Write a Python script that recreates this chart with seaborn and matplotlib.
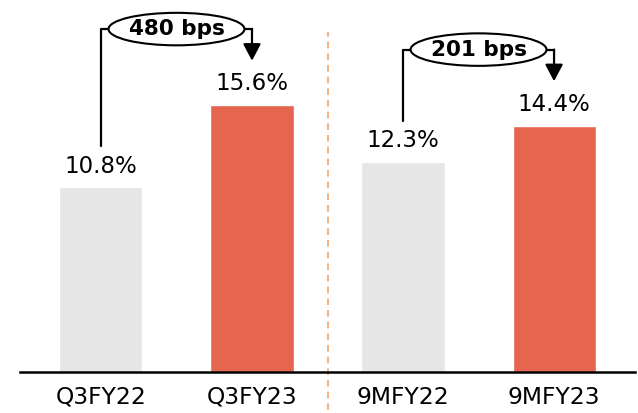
import numpy as np
import pandas as pd
import matplotlib
matplotlib.use("Agg")
import matplotlib.pyplot as plt
from matplotlib.patches import Ellipse
import seaborn as sns

# data
periods = ["Q3FY22", "Q3FY23", "9MFY22", "9MFY23"]
margins = [10.8, 15.6, 12.3, 14.4]
labels = ["10.8%", "15.6%", "12.3%", "14.4%"]
bubbles = ["480 bps", "201 bps"]

bar_colors = ["#E6E6E6", "#E5654F", "#E6E6E6", "#E5654F"]

sns.set_theme(style="white")
plt.rcParams["font.family"] = ["DejaVu Sans"]

fig = plt.figure(figsize=(6.38, 4.13), dpi=100)
ax = fig.add_axes([20 / 638, 41 / 413, 615 / 638, 372 / 413])

df = pd.DataFrame({"period": periods, "margin": margins})
sns.barplot(data=df, x="period", y="margin", hue="period", palette=bar_colors,
            width=0.55, legend=False, ax=ax, saturation=1)

ax.set_xlim(-0.536, 3.536)
ax.set_ylim(0, 21.75)
ax.set_xlabel("")
ax.set_ylabel("")
ax.set_yticks([])
ax.tick_params(axis="x", length=0, pad=10, labelsize=16.8, labelcolor="black")
for s in ["top", "right", "left"]:
    ax.spines[s].set_visible(False)
ax.spines["bottom"].set_color("black")
ax.spines["bottom"].set_linewidth(1.8)

# value labels
for i, (v, t) in enumerate(zip(margins, labels)):
    ax.annotate(t, (i, v), xytext=(0, 7), textcoords="offset points",
                ha="center", va="bottom", fontsize=16.5, color="black")

# divider
ax.plot([1.5, 1.5], [-2.2, 19.9], color="#F4A46B", lw=1.2, ls=(0, (4, 3)),
        clip_on=False, zorder=0)

# growth brackets
for k, txt in enumerate(bubbles):
    i, j = 2 * k, 2 * k + 1
    a, b = margins[i], margins[j]
    top = b + 4.45
    mid = (i + j) / 2
    ew = 0.9
    ax.plot([i, i, mid - ew / 2], [a + 2.4, top, top], color="black", lw=1.6,
            clip_on=False)
    ax.plot([mid + ew / 2, j], [top, top], color="black", lw=1.6,
            clip_on=False, solid_capstyle="projecting")
    ax.annotate("", xy=(j, b + 2.6), xytext=(j, top),
                arrowprops=dict(arrowstyle="-|>,head_width=0.45,head_length=0.85",
                                color="black", lw=1.6, shrinkA=0, shrinkB=0),
                annotation_clip=False)
    ax.add_patch(Ellipse((mid, top), ew, 1.9, facecolor="white",
                         edgecolor="black", lw=1.5, clip_on=False, zorder=3))
    ax.text(mid, top, txt, ha="center", va="center", fontsize=15.5,
            fontweight="bold", color="black", zorder=4)

fig.savefig("out.png", dpi=100)
